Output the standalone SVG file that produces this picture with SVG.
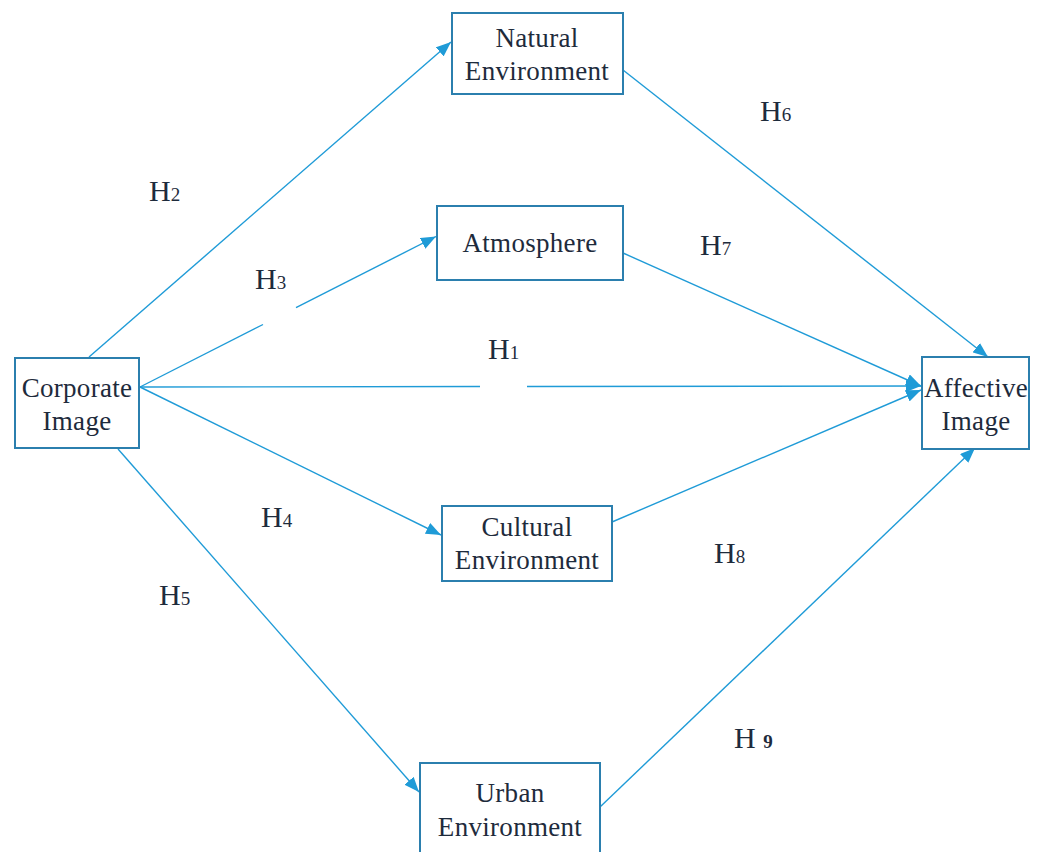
<svg xmlns="http://www.w3.org/2000/svg" width="1041" height="852" viewBox="0 0 1041 852">
  <style>
    .box { fill: #ffffff; stroke: #2b7fae; stroke-width: 2; }
    .lbl { font-family: "Liberation Serif", "DejaVu Serif", serif; font-size: 27px; fill: #1e2b3c; text-anchor: middle; letter-spacing: 0.3px; }
    .h { font-family: "Liberation Serif", "DejaVu Serif", serif; font-size: 30px; fill: #1e2b3c; }
    .sub { font-size: 19px; }
    .edge { fill: none; stroke: #1f9bd7; stroke-width: 1.4; }
  </style>
  <defs>
    <marker id="arr" markerUnits="userSpaceOnUse" markerWidth="16" markerHeight="12" refX="15" refY="6" orient="auto">
      <path d="M0,0 L15,6 L0,12 Z" fill="#1f9bd7"/>
    </marker>
  </defs>
  <rect width="1041" height="852" fill="#ffffff"/>

  <g id="connectors">
    <line class="edge" x1="89" y1="357" x2="451" y2="42" marker-end="url(#arr)"/>
    <line class="edge" x1="140" y1="387" x2="263" y2="324.5"/>
    <line class="edge" x1="296" y1="307.7" x2="436" y2="236.5" marker-end="url(#arr)"/>
    <line class="edge" x1="140" y1="387" x2="480" y2="386.5"/>
    <line class="edge" x1="527" y1="386.5" x2="921" y2="386" marker-end="url(#arr)"/>
    <line class="edge" x1="140" y1="387" x2="441" y2="535" marker-end="url(#arr)"/>
    <line class="edge" x1="118" y1="449" x2="419" y2="792" marker-end="url(#arr)"/>
    <line class="edge" x1="623" y1="70" x2="988" y2="357" marker-end="url(#arr)"/>
    <line class="edge" x1="623" y1="253" x2="921" y2="386" marker-end="url(#arr)"/>
    <line class="edge" x1="612" y1="522" x2="921" y2="390" marker-end="url(#arr)"/>
    <line class="edge" x1="600" y1="807" x2="975" y2="448" marker-end="url(#arr)"/>
  </g>

  <g id="corporate">
    <rect class="box" x="15" y="358" width="124" height="90"/>
    <text class="lbl" x="77" y="397">Corporate</text>
    <text class="lbl" x="77" y="430">Image</text>
  </g>
  <g id="affective">
    <rect class="box" x="922" y="357" width="107" height="92"/>
    <text class="lbl" x="976" y="397">Affective</text>
    <text class="lbl" x="976" y="430">Image</text>
  </g>
  <g id="natural">
    <rect class="box" x="452" y="13" width="171" height="81"/>
    <text class="lbl" x="537" y="47">Natural</text>
    <text class="lbl" x="537" y="80">Environment</text>
  </g>
  <g id="atmosphere">
    <rect class="box" x="437" y="206" width="186" height="74"/>
    <text class="lbl" x="530" y="252">Atmosphere</text>
  </g>
  <g id="cultural">
    <rect class="box" x="442" y="506" width="170" height="75"/>
    <text class="lbl" x="527" y="536">Cultural</text>
    <text class="lbl" x="527" y="569">Environment</text>
  </g>
  <g id="urban">
    <rect class="box" x="420" y="763" width="180" height="100"/>
    <text class="lbl" x="510" y="802">Urban</text>
    <text class="lbl" x="510" y="836">Environment</text>
  </g>

  <g id="labels">
    <text class="h" x="149" y="201">H<tspan class="sub">2</tspan></text>
    <text class="h" x="255" y="289">H<tspan class="sub">3</tspan></text>
    <text class="h" x="488" y="359">H<tspan class="sub">1</tspan></text>
    <text class="h" x="261" y="527">H<tspan class="sub">4</tspan></text>
    <text class="h" x="159" y="605">H<tspan class="sub">5</tspan></text>
    <text class="h" x="760" y="121">H<tspan class="sub">6</tspan></text>
    <text class="h" x="700" y="255">H<tspan class="sub">7</tspan></text>
    <text class="h" x="714" y="563">H<tspan class="sub">8</tspan></text>
    <text class="h" x="734" y="748">H <tspan class="sub" font-weight="bold">9</tspan></text>
  </g>
</svg>
